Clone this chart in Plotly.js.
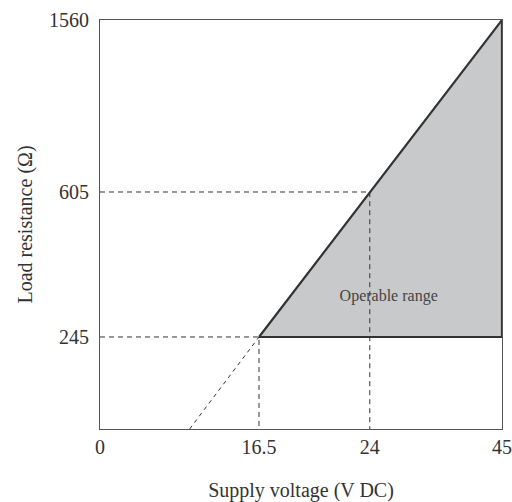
<!DOCTYPE html>
<html>
<head>
<meta charset="utf-8">
<script src="https://cdn.plot.ly/plotly-3.0.1.min.js"></script>
<style>html,body{margin:0;padding:0;background:#fff;}#chart{width:512px;height:502px;}</style>
</head>
<body>
<div id="chart"></div>
<script>
// ---- data ----
var voltageTicks = [0, 16.5, 24, 45];          // V DC
var resistanceTicks = [0, 245, 605, 1560];     // ohm
var xTickLabels = ['0', '16.5', '24', '45'];
var yTickLabels = ['245', '605', '1560'];
var rangeV = [16.5, 45, 45];                   // operable range polygon
var rangeR = [245, 1560, 245];
var guide245V = [0, 16.5, 16.5];
var guide245R = [245, 245, 0];
var guide605V = [0, 24, 24];
var guide605R = [605, 605, 0];
var extensionV = [9.3, 16.5];
var extensionR = [0, 245];
var regionLabel = 'Operable range';
var regionLabelV = 27, regionLabelR = 345;

// ---- schematic (piecewise-linear) scales: the drawing is not to scale ----
var xAxisPos = [0, 17.8, 30.2, 45];
var yAxisPos = [0, 351, 904, 1560];
function interp(v, vals, pos) {
  for (var i = 0; i < vals.length - 1; i++) {
    if (v <= vals[i + 1] || i === vals.length - 2) {
      var t = (v - vals[i]) / (vals[i + 1] - vals[i]);
      return pos[i] + t * (pos[i + 1] - pos[i]);
    }
  }
}
function sx(arr) { return arr.map(function (v) { return interp(v, voltageTicks, xAxisPos); }); }
function sy(arr) { return arr.map(function (v) { return interp(v, resistanceTicks, yAxisPos); }); }

var dark = '#333333';
var dashStyle = '5px,4px';
var serif = 'Liberation Serif, serif';

var traces = [
  { x: sx(rangeV), y: sy(rangeR), mode: 'lines', fill: 'toself', fillcolor: '#c8c9cb',
    line: { width: 0, color: 'rgba(0,0,0,0)' }, hoverinfo: 'skip', cliponaxis: false },
  { x: sx(guide245V), y: sy(guide245R), mode: 'lines', line: { color: dark, width: 1, dash: dashStyle }, cliponaxis: false },
  { x: sx(guide605V), y: sy(guide605R), mode: 'lines', line: { color: dark, width: 1, dash: dashStyle }, cliponaxis: false },
  { x: sx(extensionV), y: sy(extensionR), mode: 'lines', line: { color: dark, width: 1, dash: '4px,4px' }, cliponaxis: false },
  { x: sx(rangeV.concat([rangeV[0]])), y: sy(rangeR.concat([rangeR[0]])), mode: 'lines',
    line: { color: dark, width: 2.2 }, cliponaxis: false },
  { x: sx([regionLabelV]), y: sy([regionLabelR]), mode: 'text', text: [regionLabel],
    textfont: { family: serif, size: 16, color: '#444' }, cliponaxis: false }
];

var layout = {
  width: 512, height: 502,
  margin: { l: 100, r: 10, t: 20, b: 73, pad: 0 },
  paper_bgcolor: '#fff', plot_bgcolor: '#fff',
  showlegend: false,
  font: { family: serif, size: 20, color: '#333' },
  xaxis: {
    range: [0, 45], autorange: false, fixedrange: true,
    tickmode: 'array', tickvals: sx(voltageTicks), ticktext: xTickLabels,
    showgrid: false, zeroline: false, showline: true, mirror: true,
    linecolor: '#555', linewidth: 1, ticks: '', ticklen: 0,
    tickfont: { family: serif, size: 20, color: '#333' },
    title: { text: 'Supply voltage (V DC)', standoff: 26,
             font: { family: serif, size: 20, color: '#333' } }
  },
  yaxis: {
    range: [0, 1560], autorange: false, fixedrange: true,
    tickmode: 'array', tickvals: sy([245, 605, 1560]), ticktext: yTickLabels,
    showgrid: false, zeroline: false, showline: true, mirror: true,
    linecolor: '#555', linewidth: 1, ticks: '', ticklen: 0, ticklabelstandoff: 6,
    tickfont: { family: serif, size: 20, color: '#333' },
    title: { text: 'Load resistance (Ω)', standoff: 11,
             font: { family: serif, size: 20, color: '#333' } }
  }
};

Plotly.newPlot('chart', traces, layout, { displayModeBar: false, staticPlot: true });
</script>
</body>
</html>
